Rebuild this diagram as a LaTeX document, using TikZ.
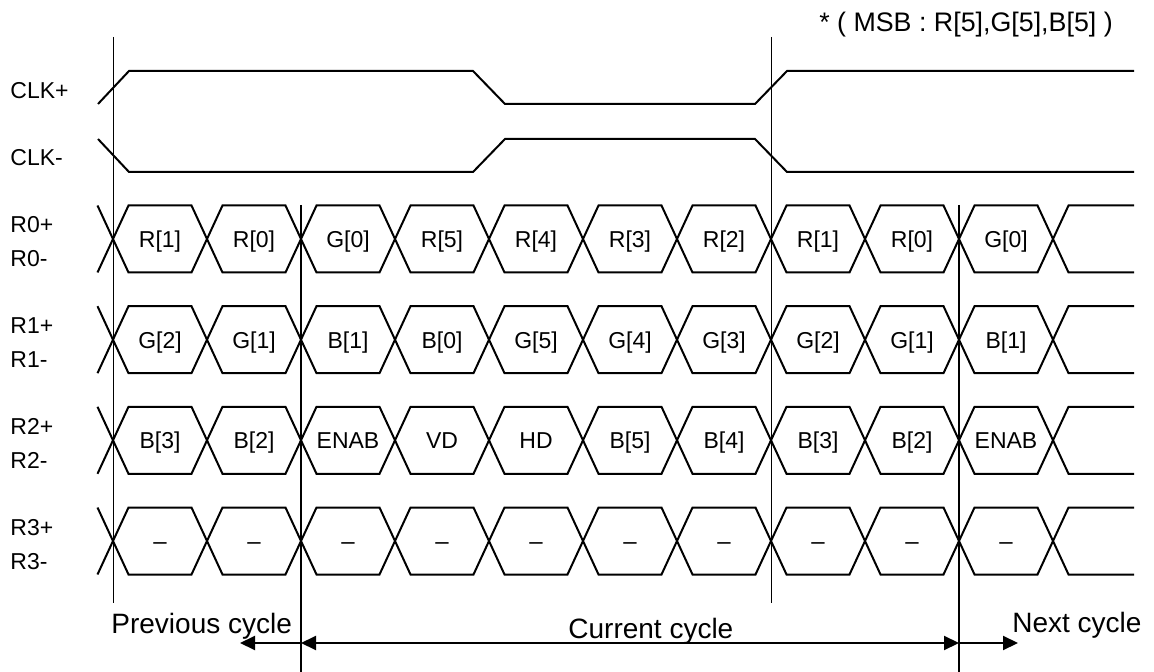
\documentclass[tikz,border=0pt]{standalone}
\usepackage{fontspec}
\setmainfont{Liberation Sans}
\usetikzlibrary{positioning, arrows.meta}

\tikzset{
  sig/.style={line width=1pt, line join=miter},
  guide/.style={line width=0.5pt},
  bound/.style={line width=1pt},
  lbl/.style={font=\fontsize{11.5}{13}\selectfont, inner sep=0pt, anchor=base west},
  cell/.style={font=\fontsize{11.5}{13}\selectfont, inner sep=0pt, anchor=base},
  cyc/.style={font=\fontsize{14}{16}\selectfont, inner sep=0pt, anchor=base west},
  tip/.tip={Triangle[length=7.5pt,width=7pt]},
  span/.style={line width=1pt, -tip},
}

\begin{document}
\begin{tikzpicture}[x=0.5pt, y=-0.5pt]
\useasboundingbox (0,0) rectangle (1154,672);

% cycle marks
\draw[guide] (113,37) -- (113,603);
\draw[guide] (771,37) -- (771,603);

% clock pair
\node[lbl] (clkp) at (10,99) {CLK+};
\node[lbl] (clkm) at (10,166) {CLK-};
\draw[sig] (98,104) -- (129,71) -- (473,71) -- (505,104) -- (755,104) -- (787,71) -- (1134,71);
\draw[sig] (98,139) -- (129,172) -- (473,172) -- (505,139) -- (755,139) -- (787,172) -- (1134,172);

% data pairs
\foreach \row/\yc/\cells in {
  0/239/{R[1],R[0],G[0],R[5],R[4],R[3],R[2],R[1],R[0],G[0]},
  1/339.7/{G[2],G[1],B[1],B[0],G[5],G[4],G[3],G[2],G[1],B[1]},
  2/440.3/{B[3],B[2],ENAB,VD,HD,B[5],B[4],B[3],B[2],ENAB},
  3/541/{\large–,\large–,\large–,\large–,\large–,\large–,\large–,\large–,\large–,\large–}}{
  \node[lbl] (r\row p) at (10,\yc-6) {R\row+};
  \node[lbl] (r\row m) at (10,\yc+28) {R\row-};
  \draw[sig] (97.5,\yc-33.5) -- (113,\yc) -- (97.5,\yc+33.5);
  \foreach \t [count=\k from 0] in \cells{
    \draw[sig] ({113+94*\k},\yc) -- ++(15.5,-33.5) -- ++(63,0) -- ++(15.5,33.5)
      -- ++(-15.5,33.5) -- ++(-63,0) -- cycle;
    \node[cell] (c\row-\k) at ({160+94*\k},\yc+8.5) {\t};
  }
  \draw[sig] (1134,\yc-33.5) -- (1068.5,\yc-33.5) -- (1053,\yc) -- (1068.5,\yc+33.5) -- (1134,\yc+33.5);
}

% cycle bounds
\draw[bound] (301,205) -- (301,672);
\draw[bound] (959,205) -- (959,672);

\node[font=\fontsize{13.4}{15}\selectfont, inner sep=0pt, anchor=base] (msb) at (966,32) {* ( MSB : R[5],G[5],B[5] )};

\coordinate (prev) at (240,643);
\coordinate (curl) at (301,643);
\coordinate (curr) at (959,643);
\coordinate (next) at (1018,643);
\draw[span] (curl) -- (prev);
\draw[span, tip-tip] (curl) -- (curr);
\draw[span] (curr) -- (next);

\node[cyc] (tprev) at (111,633) {Previous cycle};
\node[cyc] (tcur) at (568,638) {Current cycle};
\node[cyc] (tnext) at (1012,632) {Next cycle};

\end{tikzpicture}
\end{document}
